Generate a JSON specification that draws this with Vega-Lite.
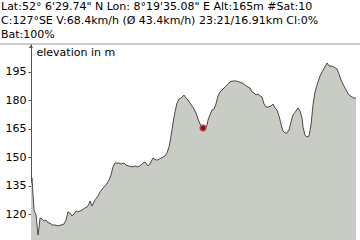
{
  "$schema": "https://vega.github.io/schema/vega-lite/v6.json",
  "width": 325,
  "height": 196,
  "autosize": "none",
  "padding": {"left": 31, "top": 44, "right": 4, "bottom": 0},
  "background": "white",
  "config": {
    "view": {"stroke": null},
    "font": "DejaVu Sans",
    "axisY": {
      "labelOverlap": false,
      "domain": true,
      "ticks": true,
      "grid": false,
      "zindex": 2,
      "domainColor": "#555555",
      "domainWidth": 1,
      "tickColor": "#555555",
      "tickSize": 3,
      "tickWidth": 1,
      "labelFont": "DejaVu Sans",
      "labelFontSize": 11,
      "labelColor": "#000000",
      "labelPadding": 2,
      "titleFont": "DejaVu Sans",
      "titleFontSize": 11,
      "titleFontWeight": "normal",
      "titleColor": "#000000",
      "titleAngle": 0,
      "titleAlign": "left",
      "titleBaseline": "middle",
      "titleX": 5,
      "titleY": 8
    }
  },
  "title": {
    "text": ["Lat:52° 6'29.74\" N Lon: 8°19'35.08\" E Alt:165m #Sat:10", "C:127°SE V:68.4km/h (Ø 43.4km/h) 23:21/16.91km Cl:0%", "Bat:100%"],
    "anchor": "start",
    "frame": "group",
    "dx": -30,
    "offset": 4,
    "font": "DejaVu Sans",
    "fontSize": 11,
    "fontWeight": "normal",
    "color": "#000000",
    "lineHeight": 14
  },
  "datasets": {
    "profile": [
      {"km": 0, "elev": 136.3}, {"km": 0.052, "elev": 139.0}, {"km": 0.104, "elev": 130.0}, {"km": 0.156, "elev": 122.1},
      {"km": 0.26, "elev": 119.5}, {"km": 0.312, "elev": 114.2}, {"km": 0.364, "elev": 108.9}, {"km": 0.416, "elev": 112.6},
      {"km": 0.468, "elev": 117.9}, {"km": 0.572, "elev": 117.4}, {"km": 0.676, "elev": 116.3}, {"km": 0.78, "elev": 116.8},
      {"km": 0.884, "elev": 115.3}, {"km": 0.988, "elev": 115.3}, {"km": 1.092, "elev": 114.2}, {"km": 1.248, "elev": 114.2},
      {"km": 1.404, "elev": 113.7}, {"km": 1.56, "elev": 114.2}, {"km": 1.716, "elev": 114.7}, {"km": 1.82, "elev": 116.8},
      {"km": 1.924, "elev": 121.1}, {"km": 2.028, "elev": 120.5}, {"km": 2.132, "elev": 118.9}, {"km": 2.236, "elev": 120.0},
      {"km": 2.34, "elev": 121.6}, {"km": 2.444, "elev": 121.1}, {"km": 2.548, "elev": 121.6}, {"km": 2.652, "elev": 122.1},
      {"km": 2.808, "elev": 123.2}, {"km": 2.912, "elev": 123.7}, {"km": 3.016, "elev": 125.3}, {"km": 3.068, "elev": 126.9},
      {"km": 3.172, "elev": 124.2}, {"km": 3.328, "elev": 127.4}, {"km": 3.484, "elev": 129.5}, {"km": 3.588, "elev": 131.6},
      {"km": 3.744, "elev": 133.7}, {"km": 3.9, "elev": 135.3}, {"km": 4.056, "elev": 137.9}, {"km": 4.16, "elev": 140.6},
      {"km": 4.264, "elev": 144.8}, {"km": 4.368, "elev": 146.9}, {"km": 4.524, "elev": 146.9}, {"km": 4.68, "elev": 146.4},
      {"km": 4.836, "elev": 146.9}, {"km": 4.94, "elev": 145.8}, {"km": 5.096, "elev": 145.3}, {"km": 5.252, "elev": 144.8},
      {"km": 5.408, "elev": 145.3}, {"km": 5.564, "elev": 144.8}, {"km": 5.72, "elev": 145.8}, {"km": 5.824, "elev": 146.9},
      {"km": 5.928, "elev": 147.4}, {"km": 6.084, "elev": 145.3}, {"km": 6.188, "elev": 146.4}, {"km": 6.344, "elev": 149.5},
      {"km": 6.5, "elev": 148.5}, {"km": 6.604, "elev": 148.5}, {"km": 6.76, "elev": 149.5}, {"km": 6.864, "elev": 150.0},
      {"km": 6.968, "elev": 150.6}, {"km": 7.072, "elev": 152.2}, {"km": 7.176, "elev": 155.3}, {"km": 7.228, "elev": 158.0},
      {"km": 7.332, "elev": 164.3}, {"km": 7.384, "elev": 168.0}, {"km": 7.488, "elev": 173.8}, {"km": 7.592, "elev": 178.5},
      {"km": 7.696, "elev": 180.6}, {"km": 7.8, "elev": 181.1}, {"km": 7.904, "elev": 182.2}, {"km": 7.956, "elev": 182.7},
      {"km": 8.06, "elev": 181.1}, {"km": 8.164, "elev": 180.1}, {"km": 8.268, "elev": 178.5}, {"km": 8.372, "elev": 176.9},
      {"km": 8.476, "elev": 175.3}, {"km": 8.58, "elev": 173.2}, {"km": 8.684, "elev": 170.1}, {"km": 8.788, "elev": 167.4},
      {"km": 8.892, "elev": 166.4}, {"km": 8.944, "elev": 165.3}, {"km": 9.048, "elev": 164.8}, {"km": 9.152, "elev": 166.9},
      {"km": 9.204, "elev": 169.5}, {"km": 9.308, "elev": 172.2}, {"km": 9.412, "elev": 174.8}, {"km": 9.516, "elev": 175.3},
      {"km": 9.62, "elev": 178.0}, {"km": 9.724, "elev": 182.2}, {"km": 9.828, "elev": 184.3}, {"km": 9.932, "elev": 185.4},
      {"km": 10.036, "elev": 186.4}, {"km": 10.14, "elev": 187.5}, {"km": 10.244, "elev": 188.5}, {"km": 10.348, "elev": 189.6},
      {"km": 10.504, "elev": 190.1}, {"km": 10.66, "elev": 190.1}, {"km": 10.816, "elev": 189.6}, {"km": 10.972, "elev": 189.1},
      {"km": 11.128, "elev": 188.0}, {"km": 11.284, "elev": 186.9}, {"km": 11.388, "elev": 186.4}, {"km": 11.492, "elev": 184.3},
      {"km": 11.596, "elev": 183.8}, {"km": 11.7, "elev": 182.7}, {"km": 11.804, "elev": 183.3}, {"km": 11.908, "elev": 182.2},
      {"km": 12.012, "elev": 181.7}, {"km": 12.116, "elev": 178.0}, {"km": 12.22, "elev": 176.4}, {"km": 12.324, "elev": 176.4},
      {"km": 12.48, "elev": 176.9}, {"km": 12.584, "elev": 178.0}, {"km": 12.688, "elev": 175.9}, {"km": 12.792, "elev": 174.8},
      {"km": 12.896, "elev": 171.7}, {"km": 13.0, "elev": 167.4}, {"km": 13.104, "elev": 163.7}, {"km": 13.208, "elev": 162.7},
      {"km": 13.312, "elev": 162.7}, {"km": 13.416, "elev": 164.3}, {"km": 13.52, "elev": 168.5}, {"km": 13.624, "elev": 172.2},
      {"km": 13.78, "elev": 174.3}, {"km": 13.884, "elev": 175.9}, {"km": 13.988, "elev": 174.3}, {"km": 14.092, "elev": 170.6},
      {"km": 14.144, "elev": 165.9}, {"km": 14.248, "elev": 161.6}, {"km": 14.352, "elev": 160.6}, {"km": 14.456, "elev": 161.1},
      {"km": 14.56, "elev": 166.9}, {"km": 14.664, "elev": 177.5}, {"km": 14.768, "elev": 184.3}, {"km": 14.872, "elev": 188.0},
      {"km": 15.028, "elev": 192.7}, {"km": 15.132, "elev": 194.9}, {"km": 15.288, "elev": 197.5}, {"km": 15.392, "elev": 199.6},
      {"km": 15.496, "elev": 198.0}, {"km": 15.6, "elev": 198.0}, {"km": 15.756, "elev": 197.5}, {"km": 15.912, "elev": 196.4},
      {"km": 16.016, "elev": 193.8}, {"km": 16.12, "elev": 190.6}, {"km": 16.224, "elev": 188.5}, {"km": 16.38, "elev": 185.4},
      {"km": 16.536, "elev": 182.7}, {"km": 16.692, "elev": 181.7}, {"km": 16.796, "elev": 181.1}, {"km": 16.9, "elev": 181.1}
    ],
    "position": [{"km": 8.944, "elev": 165.3}],
    "one": [{"k": 1}]
  },
  "layer": [
    {
      "data": {"name": "profile"},
      "mark": {"type": "area", "clip": true, "color": "#c8ccc4", "opacity": 1, "line": {"color": "#484848", "strokeWidth": 1}},
      "encoding": {
        "x": {"field": "km", "type": "quantitative", "scale": {"domain": [0, 16.9], "nice": false, "zero": false}, "axis": null},
        "y": {
          "field": "elev", "type": "quantitative",
          "scale": {"domain": [106.3, 209.6], "nice": false, "zero": false},
          "axis": {"title": "elevation in m", "values": [120, 135, 150, 165, 180, 195]}
        }
      }
    },
    {
      "data": {"name": "one"},
      "mark": {"type": "rule", "clip": false, "color": "#999999", "strokeWidth": 1},
      "encoding": {
        "x": {"datum": -1.62, "axis": null},
        "x2": {"datum": 17.12},
        "y": {"datum": 209.6, "axis": {"title": "elevation in m", "values": [120, 135, 150, 165, 180, 195]}}
      }
    },
    {
      "data": {"name": "one"},
      "mark": {"type": "point", "shape": "triangle-up", "filled": true, "color": "#555555", "size": 16, "clip": false, "opacity": 1},
      "encoding": {
        "x": {"datum": 0, "axis": null},
        "y": {"datum": 208.4, "axis": {"title": "elevation in m", "values": [120, 135, 150, 165, 180, 195]}}
      }
    },
    {
      "data": {"name": "position"},
      "mark": {"type": "point", "filled": true, "fill": "#333333", "stroke": "#e03030", "strokeWidth": 1.5, "size": 30, "opacity": 1},
      "encoding": {
        "x": {"field": "km", "type": "quantitative", "axis": null},
        "y": {"field": "elev", "type": "quantitative", "axis": {"title": "elevation in m", "values": [120, 135, 150, 165, 180, 195]}}
      }
    }
  ]
}
